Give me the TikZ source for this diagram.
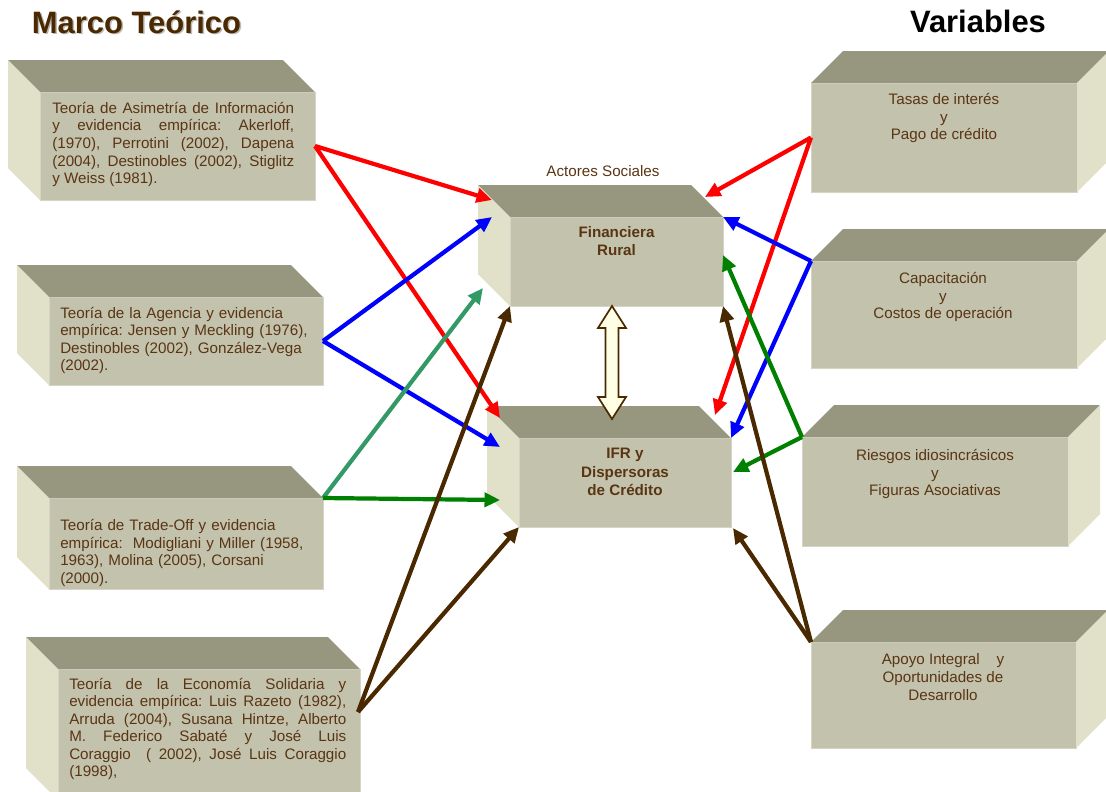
\documentclass[tikz,border=0pt]{standalone}
\usepackage{fontspec}
\setmainfont{Liberation Sans}
\usetikzlibrary{arrows.meta,calc}
\frenchspacing

\definecolor{topgray}{HTML}{97967F}
\definecolor{frontgray}{HTML}{C3C2AC}
\definecolor{sidegray}{HTML}{E1E0C8}
\definecolor{inkbrown}{HTML}{5A3514}
\definecolor{darkbrown}{HTML}{4A2800}
\definecolor{tealgreen}{HTML}{339966}
\definecolor{darkgreen}{HTML}{008000}
\definecolor{paleyellow}{HTML}{FFFFE6}

\tikzset{
  front/.style={fill=frontgray, draw=frontgray!70!white, line width=0.7pt, inner sep=0pt, outer sep=0pt},
  topface/.style={fill=topgray},
  sideface/.style={fill=sidegray},
  txt/.style={text=inkbrown, font=\fontsize{10.8}{12.5}\selectfont, inner sep=0pt},
  boldtxt/.style={txt, font=\fontsize{10.8}{13}\selectfont\bfseries},
  link/.style={line width=3pt, -{Triangle[length=11pt,width=10pt]}},
}

% faces of the boxes, back to the upper left or upper right
\newcommand{\boxleft}[1]{%
  \fill[topface] (#1.north west) -- ++(-32,-32) -- ($(#1.north east)+(-32,-32)$) -- (#1.north east) -- cycle;
  \fill[sideface] (#1.north west) -- ++(-32,-32) -- ($(#1.south west)+(-32,-32)$) -- (#1.south west) -- cycle;}
\newcommand{\boxright}[1]{%
  \fill[topface] (#1.north west) -- ++(32,-32) -- ($(#1.north east)+(32,-32)$) -- (#1.north east) -- cycle;
  \fill[sideface] (#1.north east) -- ++(32,-32) -- ($(#1.south east)+(32,-32)$) -- (#1.south east) -- cycle;}

\begin{document}
\begin{tikzpicture}[x=0.025cm, y=-0.025cm]
\useasboundingbox (0,0) rectangle (1106,791);

% titles
\node[anchor=base, text=gray!55, font=\fontsize{22}{26}\selectfont\bfseries, inner sep=0pt] (mtshadow) at (138,34.5) {Marco Teórico};
\node[anchor=base, text=darkbrown, font=\fontsize{22}{26}\selectfont\bfseries, inner sep=0pt] (mt) at (136.5,33) {Marco Teórico};
\node[anchor=base, font=\fontsize{22}{26}\selectfont\bfseries, inner sep=0pt] (var) at (978,32) {Variables};
\node[txt, anchor=base] (actores) at (603,176) {Actores Sociales};

% theory boxes
\node[front, minimum width=275*0.025cm, minimum height=108*0.025cm] (A1) at (177.5,146) {};
\node[front, minimum width=274*0.025cm, minimum height=88*0.025cm] (A2) at (186,341) {};
\node[front, minimum width=274*0.025cm, minimum height=91*0.025cm] (A3) at (186,543.5) {};
\node[front, minimum width=302*0.025cm, minimum height=131*0.025cm] (A4) at (209,734.5) {};
\boxleft{A1} \boxleft{A2} \boxleft{A3} \boxleft{A4}

% actors
\node[front, minimum width=213*0.025cm, minimum height=89*0.025cm] (FR) at (616.5,261.5) {};
\node[front, minimum width=212*0.025cm, minimum height=89*0.025cm] (IFR) at (625,482.5) {};
\boxleft{FR} \boxleft{IFR}

% variables
\node[front, minimum width=266*0.025cm, minimum height=109*0.025cm] (R1) at (944,137.5) {};
\node[front, minimum width=266*0.025cm, minimum height=107*0.025cm] (R2) at (944,314.5) {};
\node[front, minimum width=266*0.025cm, minimum height=109*0.025cm] (R3) at (935,491.5) {};
\node[front, minimum width=265*0.025cm, minimum height=106*0.025cm] (R4) at (943.5,695) {};
\boxright{R1} \boxright{R2} \boxright{R3} \boxright{R4}

% texts
\node[txt, anchor=west, text width=172pt, align=justify] (A1t) at (52,144.5)
  {Teoría de Asimetría de Información\linebreak y evidencia empírica: Akerloff,\linebreak (1970), Perrotini (2002), Dapena\linebreak (2004), Destinobles (2002), Stiglitz\linebreak y Weiss (1981).};
\node[txt, anchor=west, text width=184pt, align=left] (A2t) at (60,340.5)
  {Teoría de la Agencia y evidencia\\empírica: Jensen y Meckling (1976),\\Destinobles (2002), González-Vega\\(2002).};
\node[txt, anchor=west, text width=184pt, align=left] (A3t) at (60,553)
  {Teoría de Trade-Off y evidencia\\empírica:\ \ Modigliani y Miller (1958,\\1963), Molina (2005), Corsani\\(2000).};
\node[txt, anchor=west, text width=197pt, align=justify] (A4t) at (69,729)
  {Teoría de la Economía Solidaria y\linebreak evidencia empírica: Luis Razeto (1982),\linebreak Arruda (2004), Susana Hintze, Alberto\linebreak M. Federico Sabaté y José Luis\linebreak Coraggio\ \ ( 2002), José Luis Coraggio\linebreak (1998),};

\node[boldtxt, align=center] (FRt) at (616.5,241) {Financiera\\Rural};
\node[boldtxt, align=center] (IFRt) at (625,472) {IFR y\\Dispersoras\\de Crédito};

\node[txt, align=center] (R1t) at (944,118) {Tasas de interés\\y\\Pago de crédito};
\node[txt, align=center] (R2t) at (943,297) {Capacitación\\y\\Costos de operación};
\node[txt, align=center] (R3t) at (935,474) {Riesgos idiosincrásicos\\y\\Figuras Asociativas};
\node[txt, align=center] (R4t) at (943,677) {Apoyo Integral\ \ \ \ y\\Oportunidades de\\Desarrollo};

% links from theories
\draw[link, red] (A1.east) -- ($(FR.north west)+(-18,-17)$);
\draw[link, red] (A1.east) -- ($(IFR.north west)+(-19,-20)$);
\draw[link, blue] (A2.east) -- ($(FR.north west)+(-18,0)$);
\draw[link, blue] (A2.east) -- ($(IFR.north west)+(-19,9)$);
\draw[link, tealgreen] (A3.north east) -- ($(FR.north west)+(-27,71)$);
\draw[link, darkgreen] (A3.north east) -- ($(IFR.north west)+(-19,62)$);
\draw[link, darkbrown] ($(A4.north east)+(-2,43)$) -- (FR.south west);
\draw[link, darkbrown] ($(A4.north east)+(-2,43)$) -- (IFR.south west);

% links from variables
\draw[link, red] (R1.west) -- ($(FR.north east)+(-18,-20)$);
\draw[link, red] (R1.west) -- ($(IFR.north east)+(-16,-23)$);
\draw[link, blue] (R2.north west) -- (FR.north east);
\draw[link, blue] (R2.north west) -- (IFR.north east);
\draw[link, darkgreen] (R3.north west) -- ($(FR.north east)+(0,38)$);
\draw[link, darkgreen] (R3.north west) -- ($(IFR.north east)+(2,34)$);
\draw[link, darkbrown] (R4.north west) -- (FR.south east);
\draw[link, darkbrown] (R4.north west) -- ($(IFR.south east)+(2,1)$);

% hollow double arrow between the actors
\coordinate (dtop) at ($(FR.south)+(-4.5,0)$);
\coordinate (dbot) at ($(IFR.north)+(-13,-19)$);
\draw[fill=paleyellow, draw=darkbrown, line width=1.2pt]
  (dtop) -- ++(14,22) -- ++(-7.5,0) -- ($(dbot)+(6.5,-22)$) -- ++(7.5,0)
  -- (dbot) -- ++(-14,-22) -- ++(7.5,0) -- ($(dtop)+(-6.5,22)$) -- ++(-7.5,0) -- cycle;
\end{tikzpicture}
\end{document}
